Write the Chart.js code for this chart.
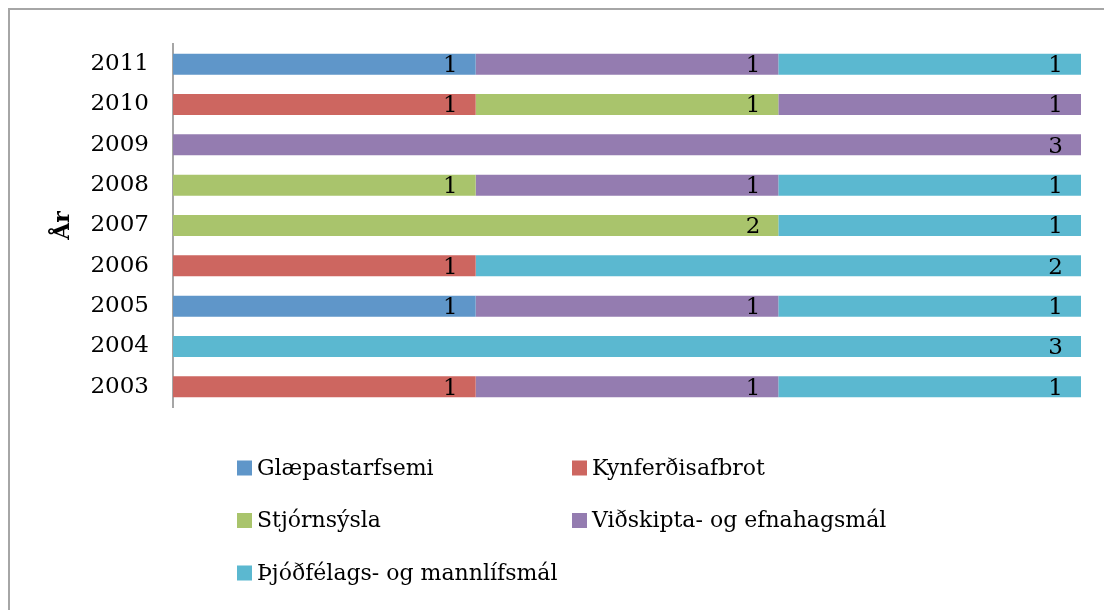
<!DOCTYPE html>
<html>
<head>
<meta charset="utf-8">
<script src="https://cdn.jsdelivr.net/npm/chart.js@4.4.1/dist/chart.umd.min.js"></script>
<style>
  html, body { margin: 0; padding: 0; background: #fff; overflow: hidden; }
  canvas { display: block; }
</style>
</head>
<body>
<canvas id="c" width="1104" height="610"></canvas>
<script>
// Categories (years) and series values
const years = ['2003','2004','2005','2006','2007','2008','2009','2010','2011'];
const seriesNames = ['Glæpastarfsemi','Kynferðisafbrot','Stjórnsýsla','Viðskipta- og efnahagsmál','Þjóðfélags- og mannlífsmál'];
const glaepastarfsemi   = [null, null, 1, null, null, null, null, null, 1];
const kynferdisafbrot   = [1, null, null, 1, null, null, null, 1, null];
const stjornsysla       = [null, null, null, null, 2, 1, null, 1, null];
const vidskipta         = [1, null, 1, null, null, 1, 3, 1, 1];
const thjodfelags       = [1, 3, 1, 2, 1, 1, null, null, 1];
const seriesColors = ['#5F96C9','#CD6660','#A9C46C','#947CB0','#5BB8D0'];
const axisTitle = 'År';

const FONT = '"DejaVu Serif", "Liberation Serif", serif';

const allSeries = [glaepastarfsemi, kynferdisafbrot, stjornsysla, vidskipta, thjodfelags];

const frame = {
  id: 'frame',
  beforeDraw(chart) {
    const ctx = chart.ctx;
    ctx.save();
    ctx.fillStyle = '#fff';
    ctx.fillRect(0, 0, chart.width, chart.height);
    ctx.strokeStyle = '#A6A6A6';
    ctx.lineWidth = 2;
    ctx.beginPath();
    ctx.moveTo(9, chart.height + 2);
    ctx.lineTo(9, 9);
    ctx.lineTo(chart.width + 2, 9);
    ctx.stroke();
    ctx.restore();
  }
};

const valueLabels = {
  id: 'valueLabels',
  afterDatasetsDraw(chart) {
    const ctx = chart.ctx;
    ctx.save();
    ctx.font = '23px ' + FONT;
    ctx.fillStyle = '#000';
    ctx.textAlign = 'right';
    ctx.textBaseline = 'middle';
    chart.data.datasets.forEach((ds, di) => {
      const meta = chart.getDatasetMeta(di);
      meta.data.forEach((bar, i) => {
        const v = ds.data[i];
        if (v == null) return;
        ctx.fillText(String(v), bar.x - 18, bar.y + 2);
      });
    });
    ctx.restore();
  }
};

const gridLegend = {
  id: 'gridLegend',
  afterDraw(chart, args, opts) {
    const ctx = chart.ctx;
    ctx.save();
    ctx.font = '22px ' + FONT;
    ctx.textBaseline = 'middle';
    ctx.textAlign = 'left';
    chart.data.datasets.forEach((ds, i) => {
      const col = i % 2, row = Math.floor(i / 2);
      const x = opts.x0 + col * opts.colW;
      const y = opts.y0 + row * opts.rowH;
      ctx.fillStyle = ds.backgroundColor;
      ctx.fillRect(x, y - 7.5, 15, 15);
      ctx.fillStyle = '#000';
      ctx.fillText(ds.label, x + 20, y + 1);
    });
    ctx.restore();
  }
};

new Chart(document.getElementById('c'), {
  type: 'bar',
  data: {
    labels: years,
    datasets: allSeries.map((d, i) => ({
      label: seriesNames[i],
      data: d,
      backgroundColor: seriesColors[i],
      borderWidth: 0,
      barPercentage: 0.52,
      categoryPercentage: 1.0
    }))
  },
  options: {
    indexAxis: 'y',
    responsive: false,
    animation: false,
    events: [],
    layout: { padding: { left: 0, top: 44, right: 23, bottom: 203 } },
    plugins: {
      legend: { display: false },
      tooltip: { enabled: false },
      gridLegend: { x0: 237, y0: 468, colW: 335, rowH: 52.5 }
    },
    scales: {
      x: {
        stacked: true, min: 0, max: 3, display: false
      },
      y: {
        stacked: true,
        reverse: true,
        grid: { display: false, drawTicks: false },
        border: { display: true, color: '#A6A6A6', width: 2 },
        ticks: { color: '#000', font: { family: FONT, size: 23 }, padding: 24 },
        title: {
          display: true, text: axisTitle, color: '#000',
          font: { family: FONT, size: 22, weight: 'bold' },
          padding: { top: 50, bottom: 0 }
        },
        afterFit(scale) { scale.width = 173; }
      }
    }
  },
  plugins: [frame, valueLabels, gridLegend]
});
</script>
</body>
</html>
